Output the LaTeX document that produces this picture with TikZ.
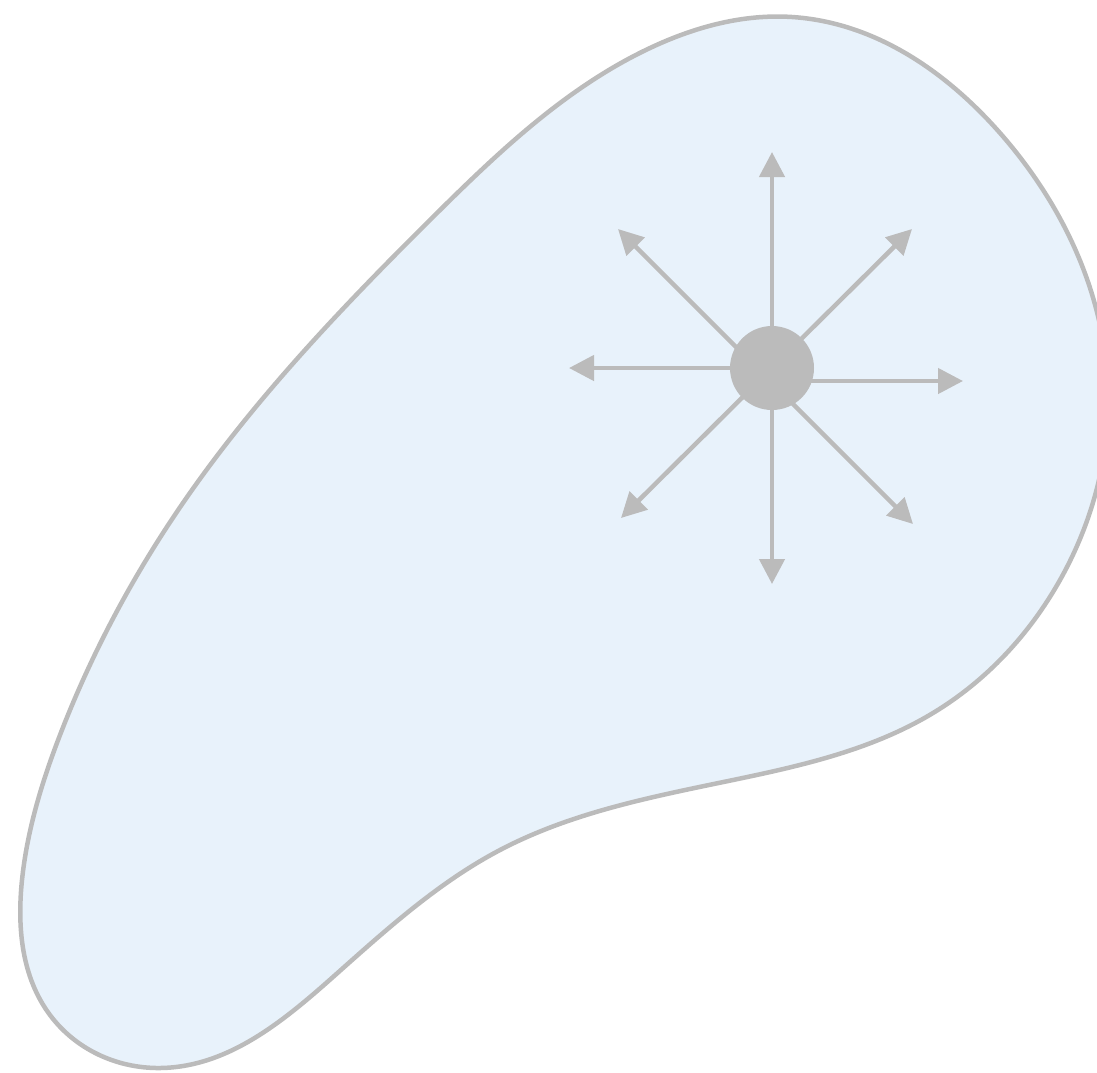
\documentclass[tikz,border=0pt]{standalone}
\usetikzlibrary{arrows.meta,hobby}
\definecolor{blobfill}{HTML}{E8F2FB}
\definecolor{greyline}{HTML}{BBBBBB}
\tikzset{
  blob/.style={fill=blobfill, draw=greyline, line width=4.5pt},
  ray/.style={draw=greyline, line width=4.5pt, -{Triangle[length=25pt,width=25pt]}},
  hub/.style={circle, fill=greyline, minimum size=84pt, inner sep=0pt}
}
\begin{document}
\begin{tikzpicture}[x=1pt,y=-1pt]
\useasboundingbox (0,0) rectangle (1097,1072);
\clip (0,0) rectangle (1097,1072);
\draw[blob] plot[closed hobby] coordinates {
  (792,17) (1000,133) (1108,390) (1060,580) (933,713) (733,780)
  (500,850) (333,977) (160,1068) (50,1015) (22,880) (60,735) (185,500)
  (433,217) (650,48)};
% ray start points (inside the hub)
\coordinate (s0) at (772,368);
\coordinate (sR) at (772,381);
\coordinate (sD) at (765,376);
% ray tips
\coordinate (tU) at (772,152);
\coordinate (tD) at (772,584);
\coordinate (tL) at (569,368);
\coordinate (tR) at (963,381);
\coordinate (tUL) at (618,229);
\coordinate (tUR) at (912,229);
\coordinate (tLL) at (621,518);
\coordinate (tLR) at (913,524);
\draw[ray] (s0) -- (tU);
\draw[ray] (s0) -- (tD);
\draw[ray] (s0) -- (tL);
\draw[ray] (sR) -- (tR);
\draw[ray] (sD) -- (tUL);
\draw[ray] (sD) -- (tLR);
\draw[ray] (s0) -- (tUR);
\draw[ray] (s0) -- (tLL);
\node[hub] (hub) at (772,368) {};
\end{tikzpicture}
\end{document}
